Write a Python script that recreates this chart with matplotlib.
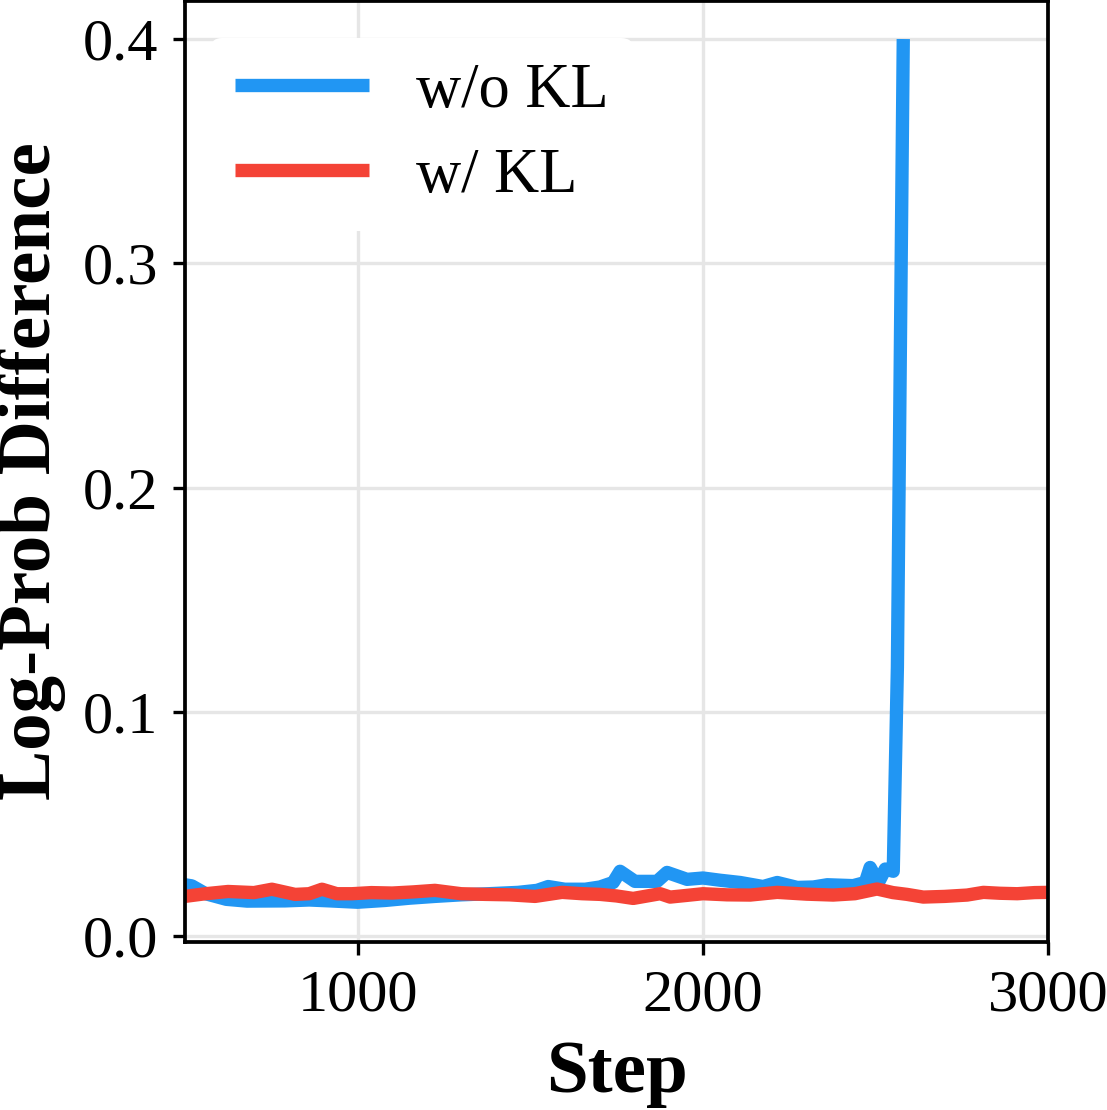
import matplotlib
matplotlib.use('Agg')
import matplotlib.pyplot as plt

plt.rcParams['font.family'] = ['Liberation Serif', 'DejaVu Serif']
plt.rcParams['mathtext.fontset'] = 'stix'

# w/o KL (blows up near step 2560)
steps_nokl = [500, 520, 560, 620, 680, 790, 860, 920, 1000, 1080, 1150, 1224, 1300,
              1380, 1465, 1520, 1552, 1600, 1659, 1702, 1740, 1760, 1803, 1867, 1896,
              1954, 2000, 2050, 2108, 2174, 2215, 2273, 2320, 2360, 2435, 2470, 2484,
              2508, 2528, 2551, 2563, 2580]
vals_nokl = [0.023, 0.0225, 0.019, 0.0165, 0.0157, 0.0158, 0.0162, 0.0158, 0.0152,
             0.016, 0.017, 0.0178, 0.0185, 0.019, 0.0196, 0.0205, 0.0222, 0.021, 0.021,
             0.022, 0.024, 0.029, 0.0245, 0.0245, 0.0285, 0.0254, 0.026, 0.025, 0.024,
             0.0222, 0.024, 0.0218, 0.022, 0.023, 0.0226, 0.024, 0.0307, 0.024, 0.030,
             0.029, 0.12, 0.4]

# w/ KL
steps_kl = [500, 560, 625, 700, 752, 819, 860, 897, 940, 984, 1040, 1100, 1160, 1224,
            1300, 1369, 1440, 1514, 1592, 1650, 1702, 1750, 1798, 1876, 1905, 1950,
            2000, 2070, 2137, 2215, 2300, 2377, 2440, 2504, 2550, 2591, 2638, 2700,
            2765, 2812, 2860, 2910, 2960, 3000]
vals_kl = [0.0178, 0.019, 0.020, 0.0195, 0.021, 0.0187, 0.019, 0.021, 0.019, 0.019,
           0.0195, 0.0193, 0.0198, 0.0205, 0.019, 0.0187, 0.0185, 0.0178, 0.0196, 0.019,
           0.0187, 0.018, 0.0169, 0.019, 0.0175, 0.0182, 0.019, 0.0185, 0.0184, 0.0196,
           0.0188, 0.0184, 0.019, 0.0211, 0.0195, 0.0187, 0.0175, 0.0178, 0.0184, 0.0196,
           0.0192, 0.019, 0.0195, 0.0196]

fig = plt.figure(figsize=(1107 / 300, 1110 / 300), dpi=300)
ax = fig.add_axes([0.167, 0.1514, 0.78, 0.8476])

ax.plot(steps_nokl, vals_nokl, color='#2196F3', lw=3.2, label='w/o KL',
        solid_joinstyle='round', solid_capstyle='butt')
ax.plot(steps_kl, vals_kl, color='#F44336', lw=3.2, label='w/ KL',
        solid_joinstyle='round', solid_capstyle='butt')

ax.set_xlim(500, 3000)
ax.set_ylim(-0.0025, 0.4169)
ax.set_xticks([1000, 2000, 3000])
ax.set_yticks([0.0, 0.1, 0.2, 0.3, 0.4])
ax.set_yticklabels(['0.0', '0.1', '0.2', '0.3', '0.4'])
ax.grid(True, color='#e6e6e6', lw=0.8)
ax.set_axisbelow(True)
ax.tick_params(labelsize=14.5, width=0.8, length=3, color='black')
for s in ax.spines.values():
    s.set_linewidth(0.9)

ax.set_xlabel('Step', fontsize=18, fontweight='bold', labelpad=4)
ax.set_ylabel('Log-Prob Difference', fontsize=18, fontweight='bold', labelpad=4)

leg = ax.legend(loc='upper left', bbox_to_anchor=(0.0, 0.987), fontsize=15,
                frameon=True, handlelength=2.15, borderaxespad=0.4,
                labelspacing=0.42, handletextpad=0.75)
leg.get_frame().set_edgecolor('none')
leg.get_frame().set_facecolor('white')
leg.get_frame().set_alpha(1)

fig.savefig('out.png', dpi=300)
